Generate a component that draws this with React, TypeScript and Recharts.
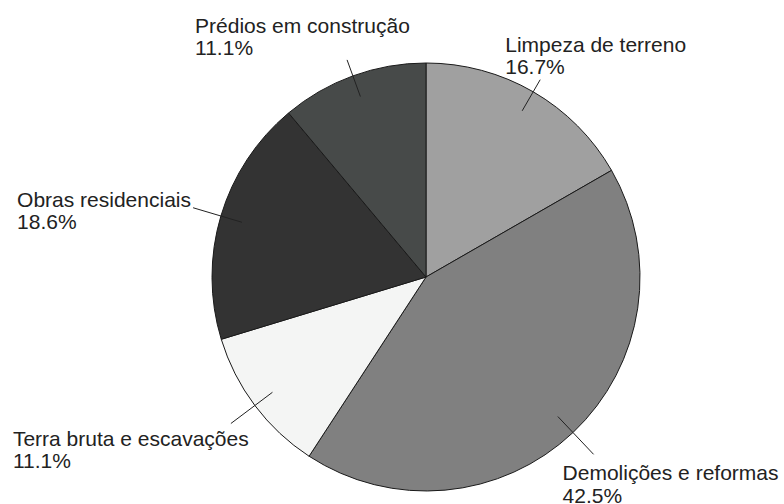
import React from "react";
import { PieChart, Pie, Cell } from "recharts";

const categories = [
  "Limpeza de terreno",
  "Demolições e reformas",
  "Terra bruta e escavações",
  "Obras residenciais",
  "Prédios em construção",
];
const shares = [16.7, 42.5, 11.1, 18.6, 11.1];

const colors = ["#a0a0a0", "#808080", "#f4f5f4", "#333333", "#474a49"];
// how far each leader line sticks out past the rim, and where its label sits
const leaderOut = [14, 30, 30, 29, 17];
const labelOffset: [number, number][] = [
  [-35, -28],
  [-31, 26],
  [-218, 22],
  [-176, -1],
  [-152, -27],
];

const data = categories.map((name, i) => ({ name, value: shares[i] }));

const RAD = Math.PI / 180;

function renderLabel(props: any) {
  const { cx, cy, midAngle, outerRadius, index } = props;
  const cos = Math.cos(-midAngle * RAD);
  const sin = Math.sin(-midAngle * RAD);
  const r0 = outerRadius - 22;
  const r1 = outerRadius + leaderOut[index];
  const x0 = cx + r0 * cos;
  const y0 = cy + r0 * sin;
  const x1 = cx + r1 * cos;
  const y1 = cy + r1 * sin;
  const [dx, dy] = labelOffset[index];
  return (
    <g key={`lbl-${index}`}>
      <line x1={x0} y1={y0} x2={x1} y2={y1} stroke="#222" strokeWidth={1} />
      <text
        x={x1 + dx}
        y={y1 + dy}
        fill="#222"
        fontSize={21}
        fontFamily="'Liberation Sans', Arial, sans-serif"
        textAnchor="start"
      >
        <tspan x={x1 + dx} dy={0}>{categories[index]}</tspan>
        <tspan x={x1 + dx} dy={22.5}>{shares[index].toFixed(1)}%</tspan>
      </text>
    </g>
  );
}

export default function App() {
  return (
    <div style={{ position: "absolute", left: 0, top: 0, width: 784, height: 504, background: "#fff" }}>
      <PieChart width={784} height={504} margin={{ top: 0, right: 0, bottom: 0, left: 0 }}>
        <Pie
          data={data}
          dataKey="value"
          nameKey="name"
          cx={426}
          cy={277}
          outerRadius={214}
          startAngle={90}
          endAngle={-270}
          stroke="#1a1a1a"
          strokeWidth={1}
          labelLine={false}
          label={renderLabel}
          isAnimationActive={false}
        >
          {data.map((d, i) => (
            <Cell key={d.name} fill={colors[i]} />
          ))}
        </Pie>
      </PieChart>
    </div>
  );
}
